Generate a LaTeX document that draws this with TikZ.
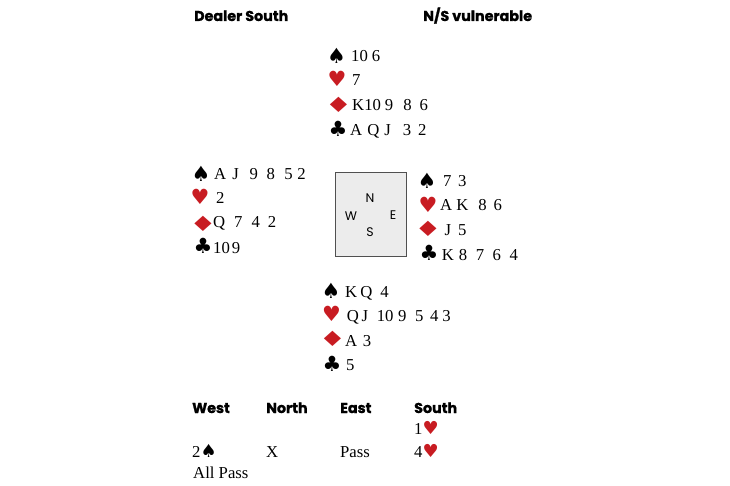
\documentclass[tikz,border=0pt]{standalone}
\usepackage{fontspec}
\usepackage{graphicx}
\setmainfont{Liberation Serif}
\newfontfamily\hdrfont{Poppins}[BoldFeatures={FakeBold=1.3}]
\newfontfamily\suitfont{DejaVu Sans}
\definecolor{suitred}{RGB}{200,28,34}
\definecolor{boxfill}{RGB}{236,236,236}
\definecolor{boxline}{RGB}{80,80,80}
\newcommand\gp[1]{\hspace{#1pt}}
\newcommand\wdiam{\scalebox{1.45}[1]{♦}}
\tikzset{
  hdr/.style={inner sep=0pt, anchor=base west, font=\hdrfont\bfseries\fontsize{14.3}{16}\selectfont},
  cards/.style={inner sep=0pt, anchor=base west, font=\fontsize{16.7}{20}\selectfont},
  blk/.style={inner sep=0pt, anchor=center, font=\suitfont\fontsize{21}{24}\selectfont, text=black},
  rd/.style={inner sep=0pt, anchor=center, font=\suitfont\fontsize{21}{24}\selectfont, text=suitred},
  compass/.style={inner sep=0pt, anchor=center, font=\hdrfont\fontsize{12.5}{13}\selectfont},
  tablebox/.style={draw=boxline, fill=boxfill, line width=0.9pt}
}
\newcommand\bidheart{{\suitfont\fontsize{18}{18}\selectfont\color{suitred}♥}}
\newcommand\bidspade{{\suitfont\fontsize{18}{18}\selectfont ♠}}
\begin{document}
\begin{tikzpicture}[x=1pt,y=-1pt]
\useasboundingbox (0,0) rectangle (730,486);
% headers
\node[hdr] (dealer) at (194,21) {Dealer South};
\node[hdr] (vul) at (423,21) {N/S vulnerable};
% North
\node[blk] (ns) at (336.5,56) {♠};
\node[rd]  (nh) at (337,78.5) {♥};
\node[rd]  (nd) at (338.5,105) {\wdiam};
\node[blk] (nc) at (338,129) {♣};
\node[cards] (nst) at (351,62) {10\gp{4}6};
\node[cards] (nht) at (352,86) {7};
\node[cards] (ndt) at (352,111) {K10\gp{4}9\gp{10}8\gp{8}6};
\node[cards] (nct) at (350,136) {A\gp{5}Q\gp{5}J\gp{12}3\gp{7}2};
% West
\node[blk] (ws) at (201,174) {♠};
\node[rd]  (wh) at (200,196.5) {♥};
\node[rd]  (wd) at (203,223.5) {\wdiam};
\node[blk] (wc) at (203,245.5) {♣};
\node[cards] (wst) at (214,180) {A\gp{6}J\gp{11}9\gp{8.5}8\gp{9.5}5\gp{4.5}2};
\node[cards] (wht) at (216,204) {2};
\node[cards] (wdt) at (213,228) {Q\gp{9}7\gp{9}4\gp{8}2};
\node[cards] (wct) at (213,253) {10\gp{2}9};
% table
\draw[tablebox] (335,172.3) rectangle (406,256.7);
\node[compass] (cn) at (370,198) {N};
\node[compass] (cw) at (351,216) {W};
\node[compass] (ce) at (393,215) {E};
\node[compass] (cs) at (370,232) {S};
% East
\node[blk] (es) at (427,181) {♠};
\node[rd]  (eh) at (428,204.5) {♥};
\node[rd]  (ed) at (428,229) {\wdiam};
\node[blk] (ec) at (429,253) {♣};
\node[cards] (est) at (443,187) {7\gp{6.5}3};
\node[cards] (eht) at (440,211) {A\gp{4}K\gp{10}8\gp{7}6};
\node[cards] (edt) at (444.5,236) {J\gp{7}5};
\node[cards] (ect) at (441.7,260) {K\gp{5}8\gp{8.5}7\gp{8.5}6\gp{8.5}4};
% South
\node[blk] (ss) at (331,290.5) {♠};
\node[rd]  (sh) at (331.5,314) {♥};
\node[rd]  (sd) at (332.5,339) {\wdiam};
\node[blk] (sc) at (332,364) {♣};
\node[cards] (sst) at (345,297) {K\gp{3}Q\gp{8}4};
\node[cards] (sht) at (346.7,321) {Q\gp{2.7}J\gp{8.7}10\gp{4.6}9\gp{8.6}5\gp{6.6}4\gp{4}3};
\node[cards] (sdt) at (345,346) {A\gp{5.5}3};
\node[cards] (sct) at (346,370) {5};
% bidding
\node[hdr] (bw) at (192,413) {West};
\node[hdr] (bn) at (266,413) {North};
\node[hdr] (be) at (340,413) {East};
\node[hdr] (bs) at (414,413) {South};
\node[cards] (b1) at (414,434) {1\bidheart};
\node[cards] (b2) at (192,457) {2\bidspade};
\node[cards] (b3) at (266,457) {X};
\node[cards] (b4) at (340,457) {Pass};
\node[cards] (b5) at (414,457) {4\bidheart};
\node[cards] (b6) at (193,478) {All Pass};
\end{tikzpicture}
\end{document}
